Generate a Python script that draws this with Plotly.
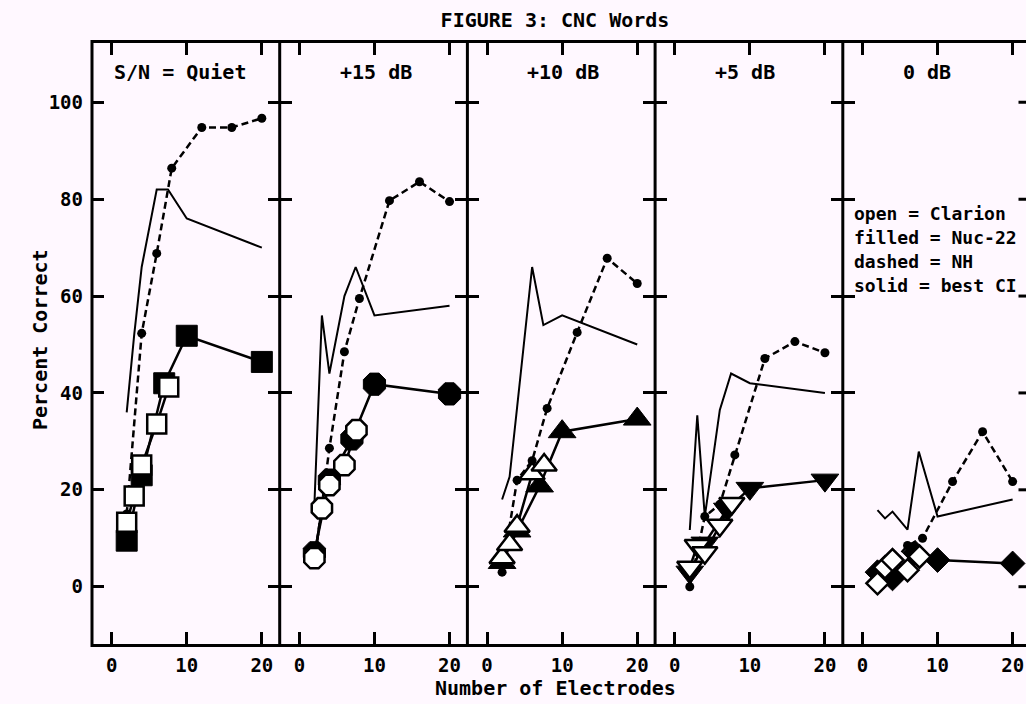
import plotly.graph_objects as go

# ---------------- data ----------------
panel_titles = ['S/N = Quiet', '+15 dB', '+10 dB', '+5 dB', '0 dB']
legend_lines = ['open = Clarion', 'filled = Nuc-22', 'dashed = NH', 'solid = best CI']

x_best = [2, 3, 4, 6, 7.5, 10, 20]
best_quiet = [36, 52, 66, 82, 82, 76, 70]
best_15 = [17, 56, 44, 60, 66, 56, 58]
best_10 = [18, 22.7, 37, 66, 54, 56, 50]
best_5 = [11.7, 35.4, 14.5, 36.5, 44, 42, 40]
best_0 = [15.8, 14.1, 15.5, 11.8, 27.9, 14.5, 18]

x_nh = [2, 4, 6, 8, 12, 16, 20]
nh_quiet = [15, 52.3, 68.8, 86.4, 94.8, 94.8, 96.7]
nh_15 = [5, 28.6, 48.5, 59.5, 79.7, 83.6, 79.5]
nh_10 = [3, 22, 26, 36.8, 52.5, 67.8, 62.6]
nh_5 = [0, 14.5, 17, 27.2, 47.1, 50.6, 48.3]
nh_0 = [2.5, 5, 8.5, 10, 21.7, 32, 21.7]

x_nuc = [2, 4, 7, 10, 20]
nuc_quiet = [9.5, 23, 42, 51.8, 46.4]
nuc_15 = [7, 22, 30.5, 41.8, 39.8]
nuc_10 = [5, 11.5, 20.8, 32, 34.6]
nuc_5 = [3, 9, 16, 20.3, 22]
nuc_0 = [3, 1.7, 7, 5.5, 4.8]

x_cla = [2, 3, 4, 6, 7.6]
cla_quiet = [13.3, 18.7, 25.1, 33.6, 41.2]
cla_15 = [5.9, 16.2, 21, 25.1, 32.3]
cla_10 = [6, 8.7, 12.5, 23.3, 25.1]
cla_5 = [4, 8.5, 7, 12.7, 17.2]
cla_0 = [0.7, 4, 5.5, 3.4, 6.2]

best_all = [best_quiet, best_15, best_10, best_5, best_0]
nh_all = [nh_quiet, nh_15, nh_10, nh_5, nh_0]
nuc_all = [nuc_quiet, nuc_15, nuc_10, nuc_5, nuc_0]
cla_all = [cla_quiet, cla_15, cla_10, cla_5, cla_0]

symbols = ['square', 'octagon', 'triangle-up', 'triangle-down', 'diamond']
msizes = [21, 24, 24, 24, 19]

x_ticks = [0, 10, 20]
y_ticks = [0, 20, 40, 60, 80, 100]

# ---------------- layout geometry ----------------
W, H = 1026, 704
L, R, T, B = 92, 0, 43, 60
plot_w = W - L - R
plot_h = H - T - B
pw = 187.7
px_per_x = 7.508
x_lo = -2.62
y_range = [-11.83, 112.24]
BG = '#fff8ff'
FONT = 'DejaVu Sans Mono'


def tf(size):
    return dict(family=FONT, size=size, color='black', weight='bold')


fig = go.Figure()
shapes = []
annotations = []

for k in range(5):
    xa = 'x' if k == 0 else f'x{k + 1}'
    ya = 'y' if k == 0 else f'y{k + 1}'

    fig.add_trace(go.Scatter(x=x_best, y=best_all[k], mode='lines',
                             line=dict(color='black', width=2),
                             xaxis=xa, yaxis=ya, showlegend=False))
    fig.add_trace(go.Scatter(x=x_nh, y=nh_all[k], mode='lines+markers',
                             line=dict(color='black', width=2.5, dash='7px,4px'),
                             marker=dict(symbol='circle', size=9, color='black'),
                             xaxis=xa, yaxis=ya, showlegend=False))
    fig.add_trace(go.Scatter(x=x_nuc, y=nuc_all[k], mode='lines+markers',
                             line=dict(color='black', width=2.5),
                             marker=dict(symbol=symbols[k], size=msizes[k], color='black',
                                         line=dict(color='black', width=1)),
                             xaxis=xa, yaxis=ya, showlegend=False))
    fig.add_trace(go.Scatter(x=x_cla, y=cla_all[k], mode='lines+markers',
                             line=dict(color='black', width=2.5),
                             marker=dict(symbol=symbols[k], size=msizes[k] - 2, color='white',
                                         line=dict(color='black', width=2.5)),
                             xaxis=xa, yaxis=ya, showlegend=False))

    d0 = k * pw / plot_w
    d1 = (k + 1) * pw / plot_w if k < 4 else 1.0
    width_units = (d1 - d0) * plot_w / px_per_x
    xkey = 'xaxis' if k == 0 else f'xaxis{k + 1}'
    ykey = 'yaxis' if k == 0 else f'yaxis{k + 1}'
    fig.update_layout(**{
        xkey: dict(domain=[d0, d1], range=[x_lo, x_lo + width_units], anchor=ya,
                   tickvals=x_ticks, ticks='inside', ticklen=12, tickwidth=3,
                   tickcolor='black', showline=True, linewidth=3, linecolor='black',
                   mirror='ticks', showgrid=False, zeroline=False,
                   tickfont=tf(19), ticklabelstandoff=2, fixedrange=True),
        ykey: dict(domain=[0, 1], range=y_range, anchor=xa,
                   tickvals=y_ticks, ticks='inside', ticklen=12, tickwidth=3,
                   tickcolor='black', showline=False,
                   mirror='ticks' if k < 4 else False, showgrid=False, zeroline=False,
                   showticklabels=(k == 0), tickfont=tf(19), ticklabelstandoff=8,
                   fixedrange=True),
    })

    # vertical frame line on the left of each panel
    shapes.append(dict(type='line', xref='paper', yref='paper', x0=d0, x1=d0,
                       y0=-3 / plot_h, y1=1 + 3 / plot_h,
                       line=dict(color='black', width=3)))

    annotations.append(dict(text=panel_titles[k], xref=xa, yref=ya,
                            x=0 if k == 0 else 5.1, y=106.3, xanchor='left',
                            yanchor='middle', showarrow=False, font=tf(20)))

# right-side ticks of the last (cropped) panel
for yv in y_ticks:
    shapes.append(dict(type='line', xref='x5', yref='y5', x0=x_lo + 25 - 12 / px_per_x,
                       x1=x_lo + 25, y0=yv, y1=yv, line=dict(color='black', width=3)))

# legend text in the last panel
for i, txt in enumerate(legend_lines):
    annotations.append(dict(text=txt, xref='x5', yref='y5', x=-1.44,
                            y=77.1 - 4.95 * i, xanchor='left', yanchor='middle',
                            showarrow=False, font=tf(18)))

annotations.append(dict(text='Percent Correct', xref='paper', yref='paper',
                        x=(40 - L) / plot_w, y=(H - B - 340) / plot_h, textangle=-90,
                        xanchor='center', yanchor='middle', showarrow=False, font=tf(20)))
annotations.append(dict(text='Number of Electrodes', xref='paper', yref='paper',
                        x=(555 - L) / plot_w, y=(H - B - 688) / plot_h,
                        xanchor='center', yanchor='middle', showarrow=False, font=tf(20)))

fig.update_layout(
    width=W, height=H, autosize=False,
    margin=dict(l=L, r=R, t=T, b=B, pad=0),
    paper_bgcolor=BG, plot_bgcolor=BG,
    showlegend=False,
    title=dict(text='FIGURE 3: CNC Words', x=555 / W, y=1 - 20 / H,
               xanchor='center', yanchor='middle', font=tf(20)),
    shapes=shapes, annotations=annotations,
)

fig.write_html("out.html")
